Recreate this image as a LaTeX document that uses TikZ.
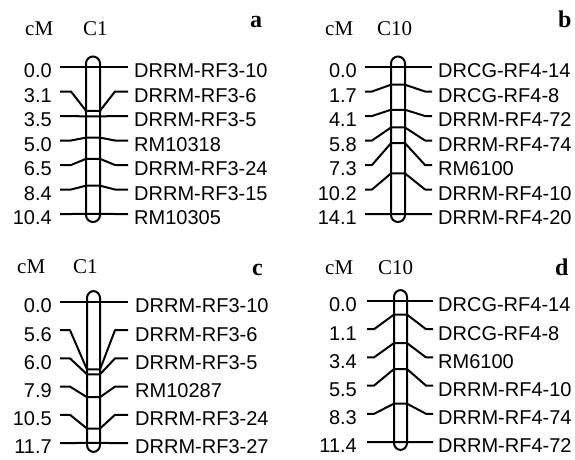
\documentclass[tikz,border=0pt]{standalone}
\usepackage{fontspec}
\setmainfont{Liberation Serif}
\newfontfamily\arialf{Liberation Sans}
\tikzset{
  mline/.style={line width=2pt, line join=round},
  chrom/.style={line width=2pt, rounded corners=7pt},
  num/.style={font=\arialf\fontsize{20}{21}\selectfont, inner sep=0pt, anchor=base east},
  lab/.style={font=\arialf\fontsize{20}{21}\selectfont, inner sep=0pt, anchor=base west},
  hdr/.style={font=\fontsize{21}{22}\selectfont, inner sep=0pt, anchor=base west},
  plet/.style={font=\bfseries\fontsize{24}{25}\selectfont, inner sep=0pt, anchor=base west},
}
\newcommand\setpanel[9]{\def\pxL{#1}\def\phL{#2}\def\pcL{#3}\def\pcR{#4}\def\phR{#5}\def\pxR{#6}\def\pnx{#7}\def\plx{#8}\def\pfx{#9}}
\newcommand\setscale[4]{\def\prz{#1}\def\prs{#2}\def\pmz{#3}\def\pms{#4}}
\newcommand\marker[4]{%
  \pgfmathsetmacro\ry{\prz+\prs*#1}%
  \pgfmathsetmacro\my{\pmz+\pms*#2}%
  \draw[mline] (\pxL,\ry) coordinate (\pfx s#1) -- (\phL,\ry) -- (\pcL,\my) -- (\pcR,\my) -- (\phR,\ry) -- (\pxR,\ry) coordinate (\pfx e#1);
  \node[num] (\pfx n#1) at (\pnx,\ry+10.8) {#3};
  \node[lab] (\pfx l#1) at (\plx,\ry+10.8) {#4};
}
\begin{document}
\begin{tikzpicture}[x=1pt,y=-1pt]
\useasboundingbox (0,0) rectangle (575,460);
% ---------- panel a ----------
\node[hdr] (acm) at (25,36) {cM};
\node[hdr] (ach) at (83,36) {C1};
\node[plet] (alet) at (250,28) {a};
\setpanel{60}{71}{86}{100}{115}{128}{52}{134}{a}
\setscale{67}{24.5}{67}{14.13}
\draw[chrom] (86,56.5) rectangle (100,222);
\marker{0}{0.0}{0.0}{DRRM-RF3-10}
\marker{1}{3.1}{3.1}{DRRM-RF3-6}
\marker{2}{3.5}{3.5}{DRRM-RF3-5}
\marker{3}{5.0}{5.0}{RM10318}
\marker{4}{6.5}{6.5}{DRRM-RF3-24}
\marker{5}{8.4}{8.4}{DRRM-RF3-15}
\marker{6}{10.4}{10.4}{RM10305}
% ---------- panel b ----------
\node[hdr] (bcm) at (325,36) {cM};
\node[hdr] (bch) at (377,36) {C10};
\node[plet] (blet) at (558,28) {b};
\setpanel{365}{372}{391}{405}{425}{432}{357}{438}{b}
\setscale{67}{24.5}{67}{10.43}
\draw[chrom] (391,56.5) rectangle (405,222);
\marker{0}{0.0}{0.0}{DRCG-RF4-14}
\marker{1}{1.7}{1.7}{DRCG-RF4-8}
\marker{2}{4.1}{4.1}{DRRM-RF4-72}
\marker{3}{5.8}{5.8}{DRRM-RF4-74}
\marker{4}{7.3}{7.3}{RM6100}
\marker{5}{10.2}{10.2}{DRRM-RF4-10}
\marker{6}{14.1}{14.1}{DRRM-RF4-20}
% ---------- panel c ----------
\node[hdr] (ccm) at (17,273) {cM};
\node[hdr] (cch) at (73,273) {C1};
\node[plet] (clet) at (252,275) {c};
\setpanel{60}{70}{87}{100}{115}{128}{52}{135}{c}
\setscale{302}{28.2}{302}{12.05}
\draw[chrom] (87,291) rectangle (100,452);
\marker{0}{0.0}{0.0}{DRRM-RF3-10}
\marker{1}{5.6}{5.6}{DRRM-RF3-6}
\marker{2}{6.0}{6.0}{DRRM-RF3-5}
\marker{3}{7.9}{7.9}{RM10287}
\marker{4}{10.5}{10.5}{DRRM-RF3-24}
\marker{5}{11.7}{11.7}{DRRM-RF3-27}
% ---------- panel d ----------
\node[hdr] (dcm) at (325,274) {cM};
\node[hdr] (dch) at (378,274) {C10};
\node[plet] (dlet) at (555,275) {d};
\setpanel{367}{374}{394}{407}{426}{433}{357}{438}{d}
\setscale{301}{28.2}{301}{12.37}
\draw[chrom] (394,290) rectangle (407,450);
\marker{0}{0.0}{0.0}{DRCG-RF4-14}
\marker{1}{1.1}{1.1}{DRCG-RF4-8}
\marker{2}{3.4}{3.4}{RM6100}
\marker{3}{5.5}{5.5}{DRRM-RF4-10}
\marker{4}{8.3}{8.3}{DRRM-RF4-74}
\marker{5}{11.4}{11.4}{DRRM-RF4-72}
\end{tikzpicture}
\end{document}
